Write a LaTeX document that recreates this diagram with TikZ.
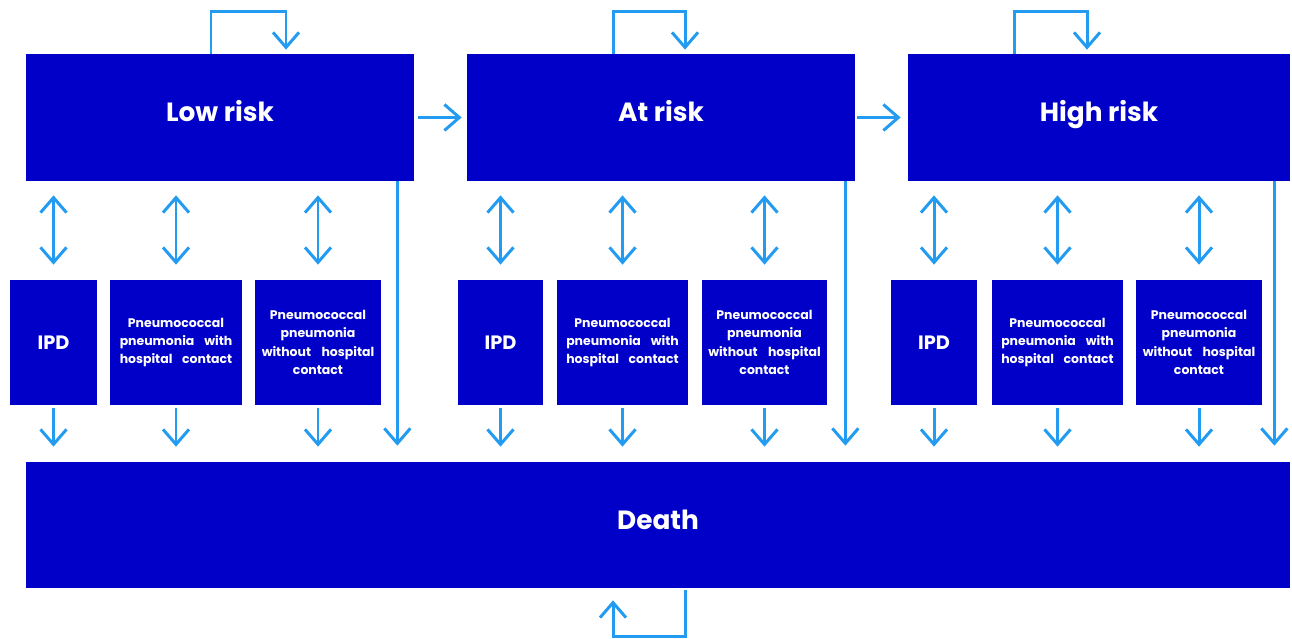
\documentclass[tikz,border=0pt]{standalone}
\usepackage{fontspec}
\setmainfont{Poppins}
\usetikzlibrary{arrows.meta}
\definecolor{boxblue}{RGB}{0,0,200}
\definecolor{flowblue}{RGB}{35,155,240}
\tikzset{
	state/.style = {draw = none, fill = boxblue, text = white, font = \bfseries\fontsize{15}{18}\selectfont, inner sep = 0pt, text height = 8pt, text depth = 3.2pt},
	event/.style = {draw = none, fill = boxblue, text = white, font = \bfseries\fontsize{7.1}{10.5}\selectfont, align = center, inner sep = 0pt, minimum height = 2.5cm, text width = 2.25cm},
	flow/.style = {draw = flowblue, line width = 1.7pt, -{Straight Barb[length = 0.3cm, width = 0.52cm]}},
	both/.style = {flow, {Straight Barb[length = 0.3cm, width = 0.52cm]}-{Straight Barb[length = 0.3cm, width = 0.52cm]}}
}
\begin{document}
\begin{tikzpicture}
	\useasboundingbox (0,0) rectangle (25.84,12.76);
	% health states
	\node [state, minimum width = 7.76cm, minimum height = 2.54cm] (lowrisk) at (4.40,10.41) {Low risk};
	\node [state, minimum width = 7.76cm, minimum height = 2.54cm] (atrisk) at (13.22,10.41) {At risk};
	\node [state, minimum width = 7.64cm, minimum height = 2.54cm] (highrisk) at (21.98,10.41) {High risk};
	\node [state, minimum width = 25.28cm, minimum height = 2.52cm] (death) at (13.16,2.26) {Death};
	% events, low risk
	\node [event, minimum width = 1.74cm, text width = , font = \bfseries\fontsize{11}{13}\selectfont] (ipdA) at (1.07,5.91) {IPD};
	\node [event, minimum width = 2.64cm] (withA) at (3.52,5.91) {Pneumococcal\\pneumonia\hfill with\\hospital\hfill contact};
	\node [event, minimum width = 2.52cm] (withoutA) at (6.36,5.91) {Pneumococcal\\pneumonia\\without\hfill hospital\\contact};
	% events, at risk
	\node [event, minimum width = 1.70cm, text width = , font = \bfseries\fontsize{11}{13}\selectfont] (ipdB) at (10.01,5.91) {IPD};
	\node [event, minimum width = 2.62cm] (withB) at (12.45,5.91) {Pneumococcal\\pneumonia\hfill with\\hospital\hfill contact};
	\node [event, minimum width = 2.50cm] (withoutB) at (15.29,5.91) {Pneumococcal\\pneumonia\\without\hfill hospital\\contact};
	% events, high risk
	\node [event, minimum width = 1.72cm, text width = , font = \bfseries\fontsize{11}{13}\selectfont] (ipdC) at (18.68,5.91) {IPD};
	\node [event, minimum width = 2.62cm] (withC) at (21.15,5.91) {Pneumococcal\\pneumonia\hfill with\\hospital\hfill contact};
	\node [event, minimum width = 2.52cm] (withoutC) at (23.98,5.91) {Pneumococcal\\pneumonia\\without\hfill hospital\\contact};
	% progression
	\draw [flow] ([xshift = 0.08cm]lowrisk.east) -- ([xshift = -0.1cm]atrisk.west);
	\draw [flow] ([xshift = 0.04cm]atrisk.east) -- ([xshift = -0.14cm]highrisk.west);
	% staying in a state
	\draw [flow] ([xshift = -0.18cm]lowrisk.north) -- ++(0,0.84) -| ([xshift = 1.32cm, yshift = 0.08cm]lowrisk.north);
	\draw [flow] ([xshift = -0.96cm]atrisk.north) -- ++(0,0.84) -| ([xshift = 0.48cm, yshift = 0.08cm]atrisk.north);
	\draw [flow] ([xshift = -1.70cm]highrisk.north) -- ++(0,0.84) -| ([xshift = -0.24cm, yshift = 0.08cm]highrisk.north);
	\draw [flow] ([xshift = 0.54cm, yshift = -0.04cm]death.south) -- ++(0,-0.92) -| ([xshift = -0.90cm, yshift = -0.24cm]death.south);
	% to and from events
	\draw [both] ([yshift = -0.28cm]ipdA.north |- lowrisk.south) -- ([yshift = 0.3cm]ipdA.north);
	\draw [both] ([yshift = -0.28cm]withA.north |- lowrisk.south) -- ([yshift = 0.3cm]withA.north);
	\draw [both] ([yshift = -0.28cm]withoutA.north |- lowrisk.south) -- ([yshift = 0.3cm]withoutA.north);
	\draw [both] ([yshift = -0.28cm]ipdB.north |- atrisk.south) -- ([yshift = 0.3cm]ipdB.north);
	\draw [both] ([yshift = -0.28cm]withB.north |- atrisk.south) -- ([yshift = 0.3cm]withB.north);
	\draw [both] ([yshift = -0.28cm]withoutB.north |- atrisk.south) -- ([yshift = 0.3cm]withoutB.north);
	\draw [both] ([yshift = -0.28cm]ipdC.north |- highrisk.south) -- ([yshift = 0.3cm]ipdC.north);
	\draw [both] ([yshift = -0.28cm]withC.north |- highrisk.south) -- ([yshift = 0.3cm]withC.north);
	\draw [both] ([yshift = -0.28cm]withoutC.north |- highrisk.south) -- ([yshift = 0.3cm]withoutC.north);
	% dying
	\draw [flow] ([yshift = -0.06cm]ipdA.south) -- ([yshift = 0.3cm]ipdA.south |- death.north);
	\draw [flow] ([yshift = -0.06cm]withA.south) -- ([yshift = 0.3cm]withA.south |- death.north);
	\draw [flow] ([yshift = -0.06cm]withoutA.south) -- ([yshift = 0.3cm]withoutA.south |- death.north);
	\draw [flow] ([yshift = -0.06cm]ipdB.south) -- ([yshift = 0.3cm]ipdB.south |- death.north);
	\draw [flow] ([yshift = -0.06cm]withB.south) -- ([yshift = 0.3cm]withB.south |- death.north);
	\draw [flow] ([yshift = -0.06cm]withoutB.south) -- ([yshift = 0.3cm]withoutB.south |- death.north);
	\draw [flow] ([yshift = -0.06cm]ipdC.south) -- ([yshift = 0.3cm]ipdC.south |- death.north);
	\draw [flow] ([yshift = -0.06cm]withC.south) -- ([yshift = 0.3cm]withC.south |- death.north);
	\draw [flow] ([yshift = -0.06cm]withoutC.south) -- ([yshift = 0.3cm]withoutC.south |- death.north);
	\draw [flow] ([xshift = -0.34cm]lowrisk.south east) -- ([xshift = -0.34cm, yshift = 0.32cm]lowrisk.south east |- death.north);
	\draw [flow] ([xshift = -0.20cm]atrisk.south east) -- ([xshift = -0.20cm, yshift = 0.32cm]atrisk.south east |- death.north);
	\draw [flow] ([xshift = -0.32cm]highrisk.south east) -- ([xshift = -0.32cm, yshift = 0.32cm]highrisk.south east |- death.north);
\end{tikzpicture}
\end{document}
